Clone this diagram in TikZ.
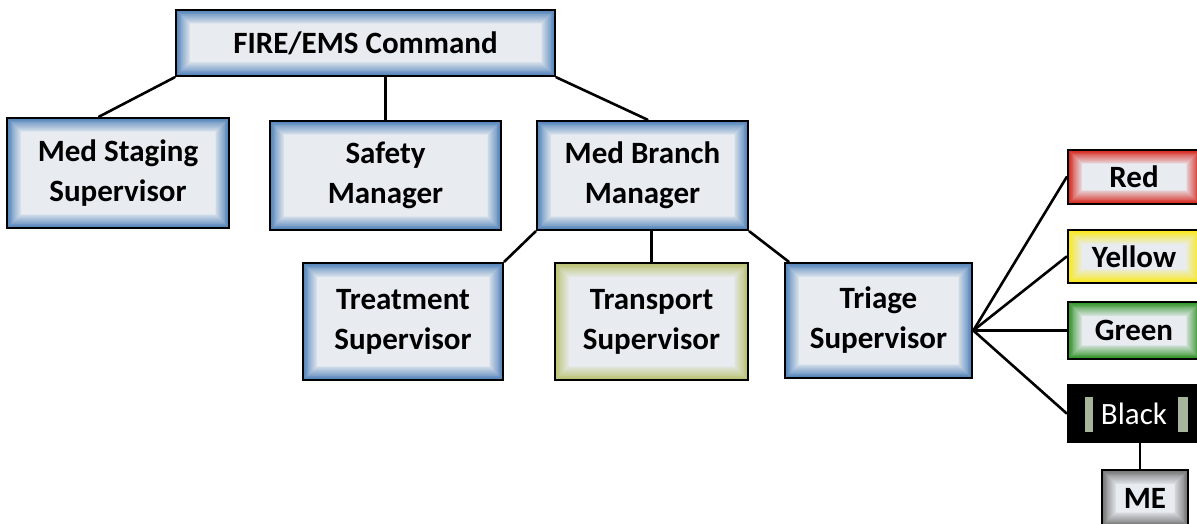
\documentclass[tikz,border=0pt]{standalone}
\usepackage{fontspec}
\setmainfont{Carlito}
\usetikzlibrary{positioning}

\definecolor{paper}{RGB}{232,236,241}
\definecolor{boxblue}{RGB}{80,130,185}
\definecolor{boxolive}{RGB}{185,192,110}
\definecolor{boxred}{RGB}{215,35,25}
\definecolor{boxyellow}{RGB}{250,232,20}
\definecolor{boxgreen}{RGB}{45,145,35}
\definecolor{boxgray}{RGB}{115,115,115}
\definecolor{barcol}{RGB}{165,180,155}

\begin{document}
\begin{tikzpicture}[x=1pt,y=-1pt,
  glow/.style={path picture={
    \foreach \i [evaluate=\i as \p using \i*6.25] in {0,...,16}
      \fill[paper!\p!#1] ([shift={(\i*0.9pt,-\i*0.9pt)}]path picture bounding box.north west)
        rectangle ([shift={(-\i*0.9pt,\i*0.9pt)}]path picture bounding box.south east);}},
  orgbox/.style={draw=black, line width=2.6pt, align=center, inner sep=0pt,
    font=\fontsize{31}{40}\selectfont\bfseries, glow=#1},
  orgbox/.default=boxblue,
  link/.style={line width=2.6pt, line cap=round}
]
\useasboundingbox (0,0) rectangle (1197,524);

% top level
\node[orgbox, minimum width=379pt, minimum height=66pt] (cmd) at (365.5,43) {FIRE/EMS Command};

% second level
\node[orgbox, minimum width=222pt, minimum height=110pt] (staging) at (118,173) {Med Staging\\Supervisor};
\node[orgbox, minimum width=231pt, minimum height=109pt] (safety) at (385.5,175.5) {Safety\\Manager};
\node[orgbox, minimum width=211pt, minimum height=109pt] (branch) at (642.5,175.5) {Med Branch\\Manager};

% branch level
\node[orgbox, minimum width=200pt, minimum height=117pt] (treat) at (403,321.5) {Treatment\\Supervisor};
\node[orgbox=boxolive, minimum width=193pt, minimum height=117pt] (transp) at (651.5,321.5) {Transport\\Supervisor};
\node[orgbox, minimum width=187pt, minimum height=115pt] (triage) at (878.5,320.5) {Triage\\Supervisor};

% triage tags
\node[orgbox=boxred, minimum width=132pt, minimum height=54pt] (red) at (1134,177) {Red};
\node[orgbox=boxyellow, minimum width=132pt, minimum height=53pt] (yellow) at (1134,256.5) {Yellow};
\node[orgbox=boxgreen, minimum width=132pt, minimum height=57pt] (green) at (1134,330.5) {Green};
\node[draw=black, fill=black, line width=2.6pt, inner sep=0pt, text=white,
  font=\fontsize{31}{40}\selectfont, minimum width=132pt, minimum height=57pt] (black) at (1134,413.5) {Black};
\fill[barcol] (1085,397) rectangle (1093,432);
\fill[barcol] (1178,397) rectangle (1188,432);
\node[orgbox=boxgray, minimum width=86pt, minimum height=56pt] (me) at (1145,498) {ME};

\draw[link] (cmd.south west) -- ([xshift=-19pt]staging.north);
\draw[link] (safety.north |- cmd.south) -- (safety.north);
\draw[link] (cmd.south east) -- ([xshift=5pt]branch.north);
\draw[link] (branch.south west) -- (treat.north east);
\draw[link] (transp.north |- branch.south) -- (transp.north);
\draw[link] (branch.south east) -- ([xshift=5pt]triage.north west);

\coordinate (hub) at ([yshift=-10pt]triage.east);
\foreach \tag in {red,yellow,green,black}
  \draw[link] (hub) -- (\tag.west);
\draw[link] ([xshift=-5pt]me.north |- black.south) -- ([xshift=-5pt]me.north);
\end{tikzpicture}
\end{document}
